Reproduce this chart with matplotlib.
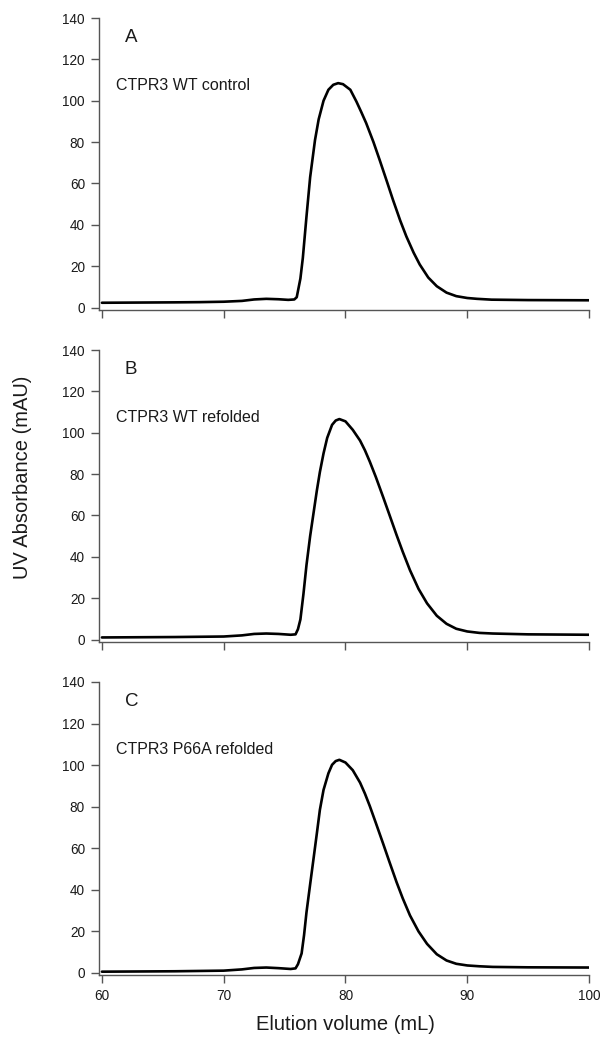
import matplotlib
matplotlib.use("Agg")
import matplotlib.pyplot as plt

plt.rcParams['font.family'] = ['Liberation Sans', 'DejaVu Sans']

# elution volume (mL) and absorbance (mAU)
vol_a = [60, 63, 66, 68, 70, 71.5, 72.5, 73.5, 74.5, 75.3, 75.8, 76.0, 76.3, 76.5, 76.8,
         77.1, 77.5, 77.8, 78.2, 78.6, 79.0, 79.4, 79.8, 80.4, 80.9, 81.3, 81.7, 82.3, 82.8,
         83.4, 83.9, 84.5, 85.0, 85.6, 86.1, 86.8, 87.5, 88.3, 89.1, 90.0, 90.8, 92, 95, 100]
abs_a = [2.3, 2.4, 2.5, 2.6, 2.8, 3.2, 3.9, 4.2, 4.0, 3.7, 3.9, 5, 14, 24, 44,
         63, 81, 91, 100, 105.3, 107.7, 108.5, 108, 105.3, 99.6, 94.5, 89.2, 80, 71.5,
         61, 52.1, 42, 34.4, 26.5, 20.8, 14.5, 10.3, 7.2, 5.5, 4.6, 4.2, 3.8, 3.6, 3.5]

vol_b = [60, 63, 66, 70, 71.5, 72.5, 73.5, 74.5, 75.5, 75.9, 76.1, 76.3, 76.55, 76.8,
         77.1, 77.4, 77.65, 77.9, 78.2, 78.5, 78.9, 79.2, 79.5, 80.0, 80.6, 81.2, 81.6, 82.0,
         82.5, 83.1, 83.6, 84.2, 84.7, 85.3, 86.0, 86.7, 87.5, 88.3, 89.1, 90.0, 91, 92.1, 95, 100]
abs_b = [1.0, 1.1, 1.2, 1.45, 2.0, 2.7, 2.9, 2.7, 2.3, 2.5, 5, 9.7, 22, 36,
         50, 62, 72, 81, 90, 97.5, 103.8, 105.9, 106.6, 105.5, 101.4, 96.2, 91.5, 86,
         78.5, 68.8, 60.5, 50.5, 42.5, 33.5, 24.5, 17.5, 11.5, 7.6, 5.2, 3.9, 3.2, 2.9, 2.5, 2.3]

vol_c = [60, 63, 66, 70, 71.5, 72.5, 73.5, 74.5, 75.5, 75.9, 76.1, 76.4, 76.6, 76.8,
         77.1, 77.4, 77.65, 77.9, 78.2, 78.6, 78.9, 79.2, 79.5, 80.0, 80.6, 81.2, 81.6, 82.0,
         82.5, 83.1, 83.6, 84.2, 84.7, 85.3, 86.0, 86.7, 87.5, 88.3, 89.1, 90.0, 91, 92.1, 95, 100]
abs_c = [0.4, 0.5, 0.6, 0.9, 1.5, 2.2, 2.4, 2.1, 1.7, 2.0, 4, 9.2, 18, 29,
         42.5, 55.8, 67, 78.4, 88, 96, 100.1, 101.9, 102.5, 101.2, 97.5, 91.5, 86.2, 80.2,
         72, 62, 53.5, 43.5, 35.8, 27.5, 19.8, 13.8, 8.8, 5.8, 4.2, 3.4, 3.0, 2.7, 2.5, 2.4]

letters = ["A", "B", "C"]
names = ["CTPR3 WT control", "CTPR3 WT refolded", "CTPR3 P66A refolded"]
x_ticks = [60, 70, 80, 90, 100]
y_ticks = [0, 20, 40, 60, 80, 100, 120, 140]

W, H = 603, 1037
fig = plt.figure(figsize=(W / 100, H / 100), dpi=100)

left, right = 98.5, 589
tops = [18, 350, 682]
bottoms = [310, 642, 975]
spine_col = "#555555"
text_col = "#1a1a1a"

traces = [(vol_a, abs_a), (vol_b, abs_b), (vol_c, abs_c)]
for i, (vol, ab) in enumerate(traces):
    ax = fig.add_axes([left / W, 1 - bottoms[i] / H, (right - left) / W, (bottoms[i] - tops[i]) / H])
    ax.plot(vol, ab, color="black", lw=1.9, solid_capstyle="round", solid_joinstyle="round")
    ax.set_xlim(59.72, 100)
    ax.set_ylim(-1.2, 140)
    ax.set_xticks(x_ticks)
    ax.set_yticks(y_ticks)
    for s in ["top", "right"]:
        ax.spines[s].set_visible(False)
    for s in ["left", "bottom"]:
        ax.spines[s].set_color(spine_col)
        ax.spines[s].set_linewidth(1.0)
    ax.tick_params(direction="out", length=5.8, width=1.0, color=spine_col,
                   labelsize=9.8, labelcolor=text_col, pad=4)
    if i < 2:
        ax.tick_params(axis="x", labelbottom=False)
    ax.text(0.054, 0.918, letters[i], transform=ax.transAxes, fontsize=13.5,
            color=text_col, ha="left", va="baseline")
    ax.text(0.036, 0.753, names[i], transform=ax.transAxes, fontsize=11.5,
            color=text_col, ha="left", va="baseline")

fig.text(23 / W, 1 - 477 / H, "UV Absorbance (mAU)", rotation=90, fontsize=14.5,
         color=text_col, ha="center", va="center")
fig.text(345 / W, 1 - 1025 / H, "Elution volume (mL)", fontsize=14.5,
         color=text_col, ha="center", va="center")

fig.savefig("out.png", dpi=100)
